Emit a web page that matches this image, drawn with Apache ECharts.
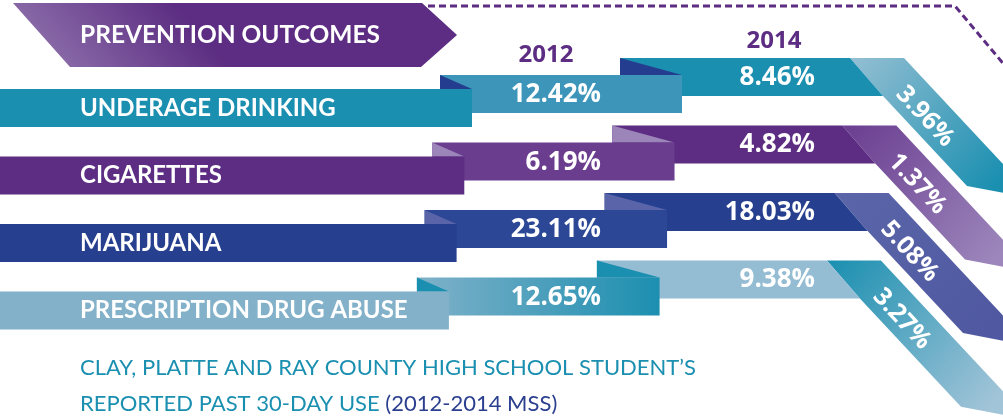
<!DOCTYPE html>
<html><head><meta charset="utf-8">
<script src="https://cdn.jsdelivr.net/npm/echarts@6/dist/echarts.min.js"></script>
<style>html,body{margin:0;padding:0;background:#fff}#c{width:1003px;height:417px}</style>
</head><body><div id="c"></div>
<script>
// ---- data ----
const categories = ['UNDERAGE DRINKING', 'CIGARETTES', 'MARIJUANA', 'PRESCRIPTION DRUG ABUSE'];
const years = ['2012', '2014'];
const values2012 = [12.42, 6.19, 23.11, 12.65];
const values2014 = [8.46, 4.82, 18.03, 9.38];
const changes = [3.96, 1.37, 5.08, 3.27];
const headerTitle = 'PREVENTION OUTCOMES';
const footerLine1 = 'CLAY, PLATTE AND RAY COUNTY HIGH SCHOOL STUDENT\u2019S';
const footerLine2a = 'REPORTED PAST 30-DAY USE ';
const footerLine2b = '(2012-2014 MSS)';

// ---- styles ----
const FONT = 'Lato';
const NUMFONT = '"Open Sans"';
const PURPLE = '#5c2d82';
const palettes = [
  {a:'#1a8fb0', b:'#3d96b9', c:'#1a8fb0', fold:'#253d8f', d0:'#94bfd3', d1:'#1a8fb0'},
  {a:'#5c2d82', b:'#6a3d8f', c:'#5c2d82', fold:'#9c85b8', d0:'#6a3d90', d1:'#9c86bb'},
  {a:'#263f8f', b:'#2b4796', c:'#263f8f', fold:'#5a64a8', d0:'#5b66a9', d1:'#4f58a0'},
  {a:'#82b1c9', b:['#80b1c9','#1c8fb0'], c:'#94bcd3', fold:'#1a8fb0', d0:'#1a8fb0', d1:'#a2c4d8'}
];
const fmt = v => v.toFixed(2) + '%';

function lin(x, y, x2, y2, c0, c1) {
  return {type:'linear', x, y, x2, y2, global:true,
    colorStops:[{offset:0, color:c0},{offset:1, color:c1}]};
}

function renderItem(params, api) {
  const i = api.value(0);
  const X = v => api.coord([v, i])[0];
  const c = api.coord([0, i])[1];
  const p = palettes[i];
  const s = -7.7 * i;
  const k = 1.07, m = 0.19;
  const xAr = X(472 + s), xB = X(440 + s), xBr = X(682 + s * 0.97);
  const xC = X(620 + s), xF = X(850 + s), xTR = X(904 + s);
  const xFb = xF + 33;
  const xBL = X(967 - 2 * i);
  const yBL = (c - 12) + k * (xBL - xFb);
  const xBR = (yBL - m * xBL - (c - 50) + k * xTR) / (k - m);
  const yBR = yBL + m * (xBR - xBL);
  const children = [];
  // diagonal part
  children.push({type:'polygon', shape:{points:[[xF, c-50],[xTR, c-50],[xBR, yBR],[xBL, yBL],[xFb, c-12]]},
    style:{fill: lin(xF, c-50, xBL + 30, yBL, p.d0, p.d1)}});
  // band C (2014)
  children.push({type:'polygon', shape:{points:[[xC, c-50],[xF, c-50],[xFb, c-12],[xC, c-12]]},
    style:{fill:p.c}});
  children.push({type:'polygon', shape:{points:[[xC, c-50],[xBr, c-33],[xC, c-33]]}, style:{fill:p.fold}});
  // band B (2012)
  const bFill = Array.isArray(p.b) ? lin(xB, 0, xBr, 0, p.b[0], p.b[1]) : p.b;
  children.push({type:'rect', shape:{x:xB, y:c-33, width:xBr-xB, height:38}, style:{fill:bFill}});
  children.push({type:'polygon', shape:{points:[[xB, c-33],[xAr, c-19],[xB, c-19]]}, style:{fill:p.fold}});
  // band A (category)
  children.push({type:'rect', shape:{x:X(0), y:c-19, width:xAr-X(0), height:38}, style:{fill:p.a}});
  // texts
  children.push({type:'text', x:X(80), y:c, style:{text:categories[i], fill:'#fff',
    font:'bold 24px ' + FONT, align:'left', verticalAlign:'middle'}});
  children.push({type:'text', x:X(601), y:c-13, style:{text:fmt(api.value(1)), fill:'#fff',
    font:'bold 26px ' + NUMFONT, align:'right', verticalAlign:'middle'}});
  children.push({type:'text', x:X(815), y:c-30.5, style:{text:fmt(api.value(2)), fill:'#fff',
    font:'bold 26px ' + NUMFONT, align:'right', verticalAlign:'middle'}});
  children.push({type:'text', x:X(925 + s), y:c+8.5, rotation:-Math.atan(k),
    style:{text:fmt(api.value(3)), fill:'#fff', font:'bold 25px ' + NUMFONT, align:'center', verticalAlign:'middle'}});
  return {type:'group', children};
}

const chart = echarts.init(document.getElementById('c'), null, {renderer:'canvas'});
chart.setOption({
  animation:false,
  grid:{left:0, right:0, top:74.25, bottom:72.75},
  xAxis:{type:'value', min:0, max:1003, show:false},
  yAxis:{type:'category', data:categories, inverse:true, show:false},
  series:[{
    type:'custom', clip:false,
    renderItem,
    encode:{y:0, x:1},
    data: categories.map((_, i) => [i, values2012[i], values2014[i], changes[i]])
  }],
  graphic:[
    {type:'polyline', z:1, shape:{points:[[428,6],[955,6],[1012,74]]},
      style:{stroke:PURPLE, lineWidth:3, lineDash:[7,4], fill:null}},
    {type:'polygon', z:2, shape:{points:[[13,3],[422,3],[457,35],[421,67],[70,67]]},
      style:{fill: lin(41, 35, 131, -45, '#8767a6', PURPLE)}},
    {type:'text', z:3, x:80, y:35, style:{text:headerTitle, fill:'#fff', font:'bold 24.5px ' + FONT,
      align:'left', verticalAlign:'middle'}},
    {type:'text', z:3, x:546, y:55, style:{text:years[0], fill:PURPLE, font:'bold 24px ' + NUMFONT,
      align:'center', verticalAlign:'middle'}},
    {type:'text', z:3, x:774, y:41, style:{text:years[1], fill:PURPLE, font:'bold 24px ' + NUMFONT,
      align:'center', verticalAlign:'middle'}},
    {type:'text', z:3, x:80, y:368, style:{text:footerLine1, fill:'#1a8fb0', font:'22px ' + FONT,
      align:'left', verticalAlign:'middle'}},
    {type:'text', z:3, x:80, y:404, style:{
      text:'{a|' + footerLine2a + '}{b|' + footerLine2b + '}',
      align:'left', verticalAlign:'middle',
      rich:{a:{fill:'#1a8fb0', color:'#1a8fb0', font:'22px ' + FONT, fontFamily:FONT, fontSize:22},
            b:{fill:'#2b3f8f', color:'#2b3f8f', font:'22px ' + FONT, fontFamily:FONT, fontSize:22}}}}
  ]
});
</script></body></html>
